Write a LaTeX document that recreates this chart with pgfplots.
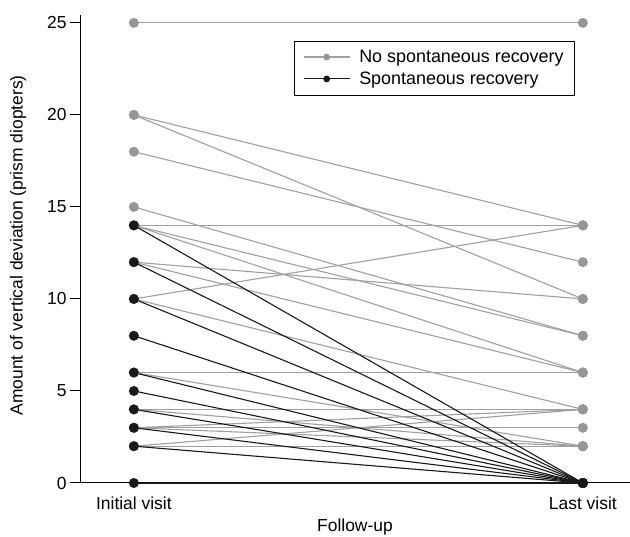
\documentclass[border=0pt]{standalone}
\usepackage{fontspec}
\setmainfont{Liberation Sans}
\usepackage{pgfplots}
\pgfplotsset{compat=1.18}
\definecolor{grline}{RGB}{160,160,160}
\definecolor{grdot}{RGB}{150,150,150}
\definecolor{bk}{RGB}{25,25,25}
\pgfplotsset{
  gr/.style={color=grline, line width=1.1bp, mark=*, mark size=4.4bp,
    mark options={fill=grdot, draw=grdot}},
  bl/.style={color=bk, line width=1.1bp, mark=*, mark size=4.4bp,
    mark options={fill=bk, draw=bk}},
}
\begin{document}
\begin{tikzpicture}[font=\fontsize{17.5}{21}\selectfont]
\begin{axis}[name=ax, scale only axis, width=550bp, height=468bp,
  xmin=-0.12, xmax=1.105, ymin=0, ymax=25.43,
  axis x line=bottom, axis y line=left,
  axis line style={-, line width=1bp, black},
  clip=false,
  ytick={0,5,...,25}, tick align=outside, major tick length=10bp,
  ytick style={line width=1bp, black},
  xtick={0,1}, xticklabels={Initial visit, Last visit},
  xtick style={draw=none},
  /pgf/number format/assume math mode=true,
  xlabel={Follow-up},
  ylabel={Amount of vertical deviation (prism diopters)},
  every axis x label/.style={at={(rel axis cs:0.5,0)}, yshift=-44bp, anchor=center},
  every axis y label/.style={at={(rel axis cs:0,0.508)}, xshift=-62bp, rotate=90, anchor=center},
  legend style={at={(0.9,0.945)}, anchor=north east, draw=black,
    line width=0.8bp, inner xsep=9bp, inner ysep=7bp,
    row sep=4bp, font=\fontsize{18}{21}\selectfont,
    /tikz/every odd column/.append style={column sep=7bp}},
  legend cell align=left,
  legend image code/.code={
    \draw[mark repeat=2, mark phase=2, #1, mark size=2.8bp]
      plot coordinates {(0bp,0bp) (23bp,0bp) (46bp,0bp)};},
]
% no spontaneous recovery
\addplot[gr] coordinates {(0,25) (1,25)};
\addlegendentry{No spontaneous recovery}
\addplot[bl] coordinates {(-5,-5)};
\addlegendentry{Spontaneous recovery}
\addplot[gr, forget plot] coordinates {(0,20) (1,14)};
\addplot[gr, forget plot] coordinates {(0,20) (1,10)};
\addplot[gr, forget plot] coordinates {(0,18) (1,12)};
\addplot[gr, forget plot] coordinates {(0,15) (1,8)};
\addplot[gr, forget plot] coordinates {(0,14) (1,14)};
\addplot[gr, forget plot] coordinates {(0,14) (1,8)};
\addplot[gr, forget plot] coordinates {(0,14) (1,6)};
\addplot[gr, forget plot] coordinates {(0,12) (1,10)};
\addplot[gr, forget plot] coordinates {(0,12) (1,6)};
\addplot[gr, forget plot] coordinates {(0,10) (1,14)};
\addplot[gr, forget plot] coordinates {(0,10) (1,4)};
\addplot[gr, forget plot] coordinates {(0,6) (1,6)};
\addplot[gr, forget plot] coordinates {(0,6) (1,2)};
\addplot[gr, forget plot] coordinates {(0,4) (1,4)};
\addplot[gr, forget plot] coordinates {(0,4) (1,2)};
\addplot[gr, forget plot] coordinates {(0,3) (1,4)};
\addplot[gr, forget plot] coordinates {(0,3) (1,3)};
\addplot[gr, forget plot] coordinates {(0,3) (1,2)};
\addplot[gr, forget plot] coordinates {(0,2) (1,4)};
\addplot[gr, forget plot] coordinates {(0,2) (1,2)};
% spontaneous recovery
\addplot[bl, forget plot] coordinates {(0,14) (1,0)};
\addplot[bl, forget plot] coordinates {(0,12) (1,0)};
\addplot[bl, forget plot] coordinates {(0,10) (1,0)};
\addplot[bl, forget plot] coordinates {(0,8) (1,0)};
\addplot[bl, forget plot] coordinates {(0,6) (1,0)};
\addplot[bl, forget plot] coordinates {(0,5) (1,0)};
\addplot[bl, forget plot] coordinates {(0,4) (1,0)};
\addplot[bl, forget plot] coordinates {(0,3) (1,0)};
\addplot[bl, forget plot] coordinates {(0,2) (1,0)};
\addplot[bl, forget plot] coordinates {(0,0) (1,0)};
\end{axis}
\pgfresetboundingbox
\path ([shift={(-80bp,-54bp)}]ax.south west) rectangle ([shift={(0bp,15bp)}]ax.north east);
\end{tikzpicture}
\end{document}
